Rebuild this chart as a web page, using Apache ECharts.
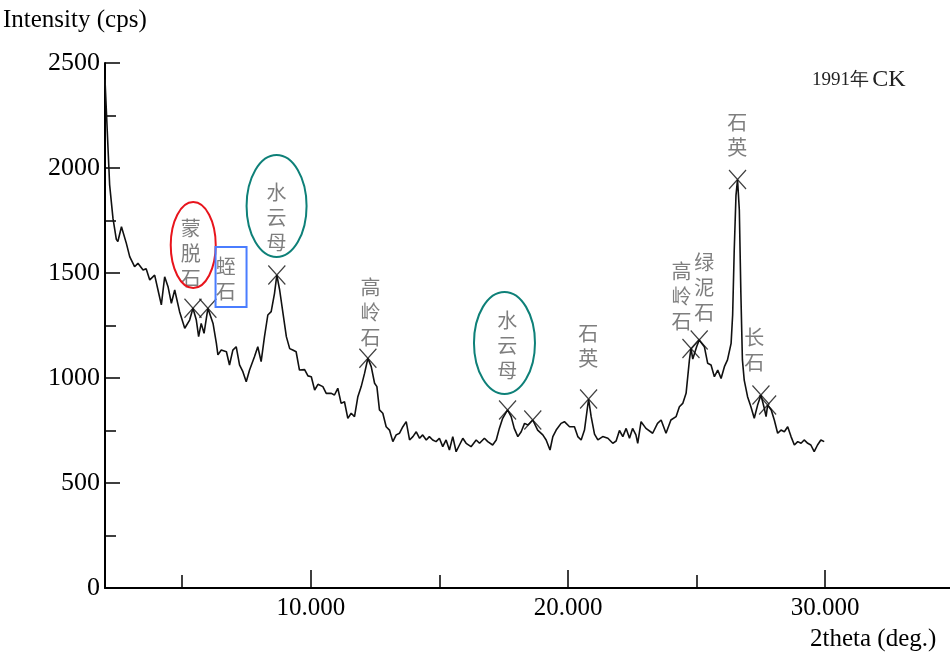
<!DOCTYPE html>
<html>
<head>
<meta charset="utf-8">
<script src="https://cdn.jsdelivr.net/npm/echarts@6/dist/echarts.min.js"></script>
<style>html,body{margin:0;padding:0;background:#fff}#c{width:950px;height:661px}</style>
</head>
<body>
<div id="c"></div>
<script>
// ---- data ----
var thetaValues = [2.00,2.18,2.31,2.44,2.50,2.64,2.70,2.83,2.96,3.15,3.28,3.48,3.60,3.74,3.93,4.06,4.19,4.32,4.45,4.58,4.71,4.90,5.10,5.29,5.42,5.55,5.64,5.74,5.85,6.00,6.20,6.33,6.39,6.52,6.72,6.84,6.97,7.10,7.23,7.36,7.49,7.62,7.81,7.94,8.07,8.20,8.33,8.46,8.59,8.68,8.79,8.92,9.05,9.18,9.30,9.43,9.56,9.76,9.89,10.02,10.15,10.28,10.47,10.60,10.80,10.92,11.05,11.18,11.31,11.44,11.57,11.70,11.83,11.96,12.09,12.22,12.35,12.48,12.57,12.67,12.80,12.93,13.06,13.19,13.32,13.45,13.58,13.71,13.84,13.97,14.10,14.23,14.35,14.49,14.61,14.74,14.87,15.00,15.13,15.26,15.39,15.52,15.65,15.78,15.91,16.04,16.23,16.43,16.56,16.75,16.88,17.07,17.21,17.33,17.46,17.65,17.79,17.91,18.05,18.18,18.31,18.44,18.63,18.82,19.02,19.15,19.30,19.41,19.54,19.73,19.86,20.06,20.25,20.38,20.51,20.64,20.80,20.90,21.03,21.16,21.35,21.55,21.74,21.87,22.00,22.13,22.26,22.39,22.51,22.64,22.71,22.84,23.03,23.10,23.29,23.48,23.62,23.81,24.00,24.20,24.33,24.46,24.59,24.72,24.78,24.85,24.91,25.00,25.10,25.30,25.43,25.56,25.69,25.82,25.95,26.08,26.20,26.34,26.40,26.46,26.53,26.59,26.66,26.72,26.78,26.85,26.98,27.11,27.24,27.37,27.50,27.63,27.70,27.76,27.90,28.02,28.15,28.28,28.41,28.54,28.67,28.80,28.93,29.06,29.18,29.32,29.44,29.57,29.70,29.83,29.96];
var intensityValues = [2420,1920,1760,1660,1650,1720,1713,1641,1578,1530,1546,1514,1520,1467,1490,1419,1348,1482,1435,1356,1419,1316,1237,1276,1332,1276,1197,1260,1213,1332,1260,1165,1110,1133,1125,1062,1133,1149,1062,1030,982,1038,1101,1149,1078,1197,1300,1316,1403,1490,1419,1308,1197,1140,1133,1125,1038,1040,1010,1006,943,970,959,927,927,919,951,879,887,808,832,816,911,959,1022,1094,1054,975,959,848,832,768,752,697,729,737,768,792,705,721,744,713,729,705,721,705,697,713,673,705,657,721,649,681,713,689,673,705,689,713,697,681,705,760,808,848,816,760,721,744,784,776,800,752,729,705,657,721,752,784,792,768,768,721,705,752,900,816,733,705,721,713,689,700,750,721,760,713,760,729,689,792,760,752,737,784,800,737,800,816,863,879,927,1086,1141,1090,1094,1149,1181,1149,1070,1062,1006,1038,998,1054,1086,1165,1300,1600,1870,1945,1800,1403,1086,990,911,863,808,871,919,856,816,871,848,800,737,752,744,768,721,681,697,689,705,689,681,649,681,705,697];

// peak markers (×)
var peakTheta = [5.42,6.00,8.68,12.22,17.65,18.63,20.80,24.78,25.10,26.59,27.50,27.76];
var peakIntensity = [1332,1332,1490,1094,848,800,900,1141,1181,1945,919,871];

// mineral labels (vertical text), anchored at data coordinates
var labelNames = ['蒙脱石','蛭石','水云母','高岭石','水云母','石英','高岭石','绿泥石','石英','长石'];
var labelTheta = [5.33,6.69,8.67,12.32,17.64,20.79,24.41,25.30,26.58,27.24];
var labelIntensity = [1595,1471,1767,1310,1157,1152,1390,1433,2157,1133];

// axis ticks / labels
var yTicks = [0,500,1000,1500,2000,2500];
var xMajorTicks = [10,20,30];
var xMinorTicks = [5,15,25];

// highlight shapes anchored in data coords
var highlightShapes = [
  {type:'ellipse', theta:5.43, intensity:1633, color:'#e8141c', rx:22.5, ry:43},
  {type:'rect', theta:6.90, intensity:1481, color:'#4a7dff', w:31, h:60},
  {type:'ellipse', theta:8.67, intensity:1819, color:'#0e8078', rx:30, ry:51},
  {type:'ellipse', theta:17.53, intensity:1167, color:'#0e8078', rx:30.5, ry:51}
];

var curve = thetaValues.map(function(t,i){return [t,intensityValues[i]];});
var peaks = peakTheta.map(function(t,i){return [t,peakIntensity[i]];});
var labels = labelNames.map(function(n,i){return {name:n, value:[labelTheta[i],labelIntensity[i]]};});

var serif = 'Liberation Serif, Times New Roman, serif';
var chart = echarts.init(document.getElementById('c'), null, {renderer:'canvas'});
var option = {
  backgroundColor:'#fff',
  animation:false,
  grid:{left:105, right:0, top:63, bottom:73, containLabel:false},
  xAxis:[{
    type:'value', min:2, max:34.85,
    axisLine:{show:true, lineStyle:{color:'#000', width:2}},
    axisTick:{show:true, inside:true, length:18, customValues:xMajorTicks, lineStyle:{color:'#000', width:1.5}},
    axisLabel:{show:true, customValues:xMajorTicks, margin:8, color:'#000', fontFamily:serif, fontSize:25,
      formatter:function(v){return Number(v).toFixed(3);}},
    splitLine:{show:false}
  },{
    type:'value', min:2, max:34.85, position:'bottom',
    axisLine:{show:false},
    axisTick:{show:true, inside:true, length:13, customValues:xMinorTicks, lineStyle:{color:'#000', width:1.5}},
    axisLabel:{show:false},
    splitLine:{show:false}
  }],
  yAxis:{
    type:'value', min:0, max:2500, interval:500,
    axisLine:{show:true, lineStyle:{color:'#000', width:2}},
    axisTick:{show:true, inside:true, length:15, lineStyle:{color:'#000', width:1.5}},
    minorTick:{show:true, splitNumber:2, length:11, lineStyle:{color:'#000', width:1.5}},
    axisLabel:{show:true, margin:5, color:'#000', fontFamily:serif, fontSize:26,
      customValues:yTicks, formatter:function(v){return String(v);}},
    splitLine:{show:false}
  },
  series:[{
    type:'line', data:curve, showSymbol:false, symbol:'none',
    lineStyle:{color:'#111', width:1.6}, z:3
  },{
    type:'scatter', data:peaks,
    symbol:'path://M0,0L10,10M10,0L0,10', symbolSize:[17,19],
    itemStyle:{color:'none', borderColor:'#111', borderWidth:1.3}, z:4
  },{
    type:'scatter', data:labels, symbolSize:0,
    label:{show:true, position:'inside', color:'#5e5e5e', fontFamily:'Noto Sans CJK SC', fontSize:20, lineHeight:25,
      formatter:function(p){return p.name.split('').join('\n');}},
    z:5
  }],
  graphic:[
    {type:'text', left:3, top:8, style:{text:'Intensity (cps)', fill:'#000', font:'25px '+serif}},
    {type:'text', left:810, top:627, style:{text:'2theta (deg.)', fill:'#000', font:'25px '+serif}},
    {type:'text', left:812, top:68, style:{text:'{a|1991年} {b|CK}', fill:'#222',
      rich:{a:{fontSize:19, fontFamily:serif, fill:'#222'}, b:{fontSize:24, fontFamily:serif, fill:'#222'}}}}
  ]
};
chart.setOption(option);

var extra = highlightShapes.map(function(s){
  var p = chart.convertToPixel({gridIndex:0}, [s.theta, s.intensity]);
  if (s.type === 'ellipse') {
    return {type:'ellipse', shape:{cx:p[0], cy:p[1], rx:s.rx, ry:s.ry}, style:{fill:'none', stroke:s.color, lineWidth:2}, z:10};
  }
  return {type:'rect', shape:{x:p[0]-s.w/2, y:p[1]-s.h/2, width:s.w, height:s.h}, style:{fill:'none', stroke:s.color, lineWidth:2}, z:10};
});
chart.setOption({graphic: option.graphic.concat(extra)});
</script>
</body>
</html>
